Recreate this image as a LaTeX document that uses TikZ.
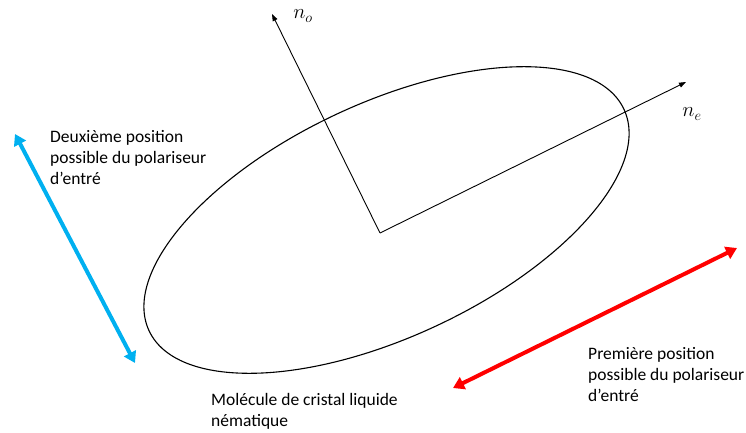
\documentclass[tikz,border=0pt]{standalone}
\usepackage{amsmath,amssymb}
\usepackage{fontspec}
\setmainfont{Carlito}
\usepackage{xcolor}
\usetikzlibrary{arrows.meta}
\definecolor{polblue}{HTML}{00B0F0}
\definecolor{polred}{HTML}{FF0000}

\begin{document}
\begin{tikzpicture}[x=1pt,y=1pt,
    axe/.style={line width=0.9pt,-{Triangle[length=7pt,width=5pt]}},
    pol/.style={line width=4pt,{Triangle[length=11pt,width=13pt]}-{Triangle[length=11pt,width=13pt]}},
    txt/.style={anchor=base west,align=left,inner sep=0pt,font=\fontsize{17.5}{21}\selectfont}]
  \useasboundingbox (0,0) rectangle (746,432);
  % molecule
  \draw[line width=1.1pt,rotate around={25:(386.5,212)}] (386.5,212) ellipse [x radius=262, y radius=117];
  \coordinate (O) at (380,199);
  \coordinate (no) at (272,418);
  \coordinate (ne) at (686,350);
  \draw[axe] (O) -- (no);
  \draw[axe] (O) -- (ne);
  \node (lno) at (303,416) {\fontsize{21}{21}\selectfont$n_o$};
  \node (lne) at (692,318) {\fontsize{21}{21}\selectfont$n_e$};
  % polariseurs
  \coordinate (b1) at (15,298);
  \coordinate (b2) at (135,69);
  \draw[pol,polblue] (b1) -- (b2);
  \coordinate (r1) at (453,44);
  \coordinate (r2) at (737,184);
  \draw[pol,polred] (r1) -- (r2);
  % base = last line
  \node[txt] (deux) at (50,248) {Deuxième position\\possible du polariseur\\d’entré};
  \node[txt] (prem) at (588,31) {Première position\\possible du polariseur\\d’entré};
  \node[txt] (mol) at (211,6) {Molécule de cristal liquide\\nématique};
\end{tikzpicture}
\end{document}
